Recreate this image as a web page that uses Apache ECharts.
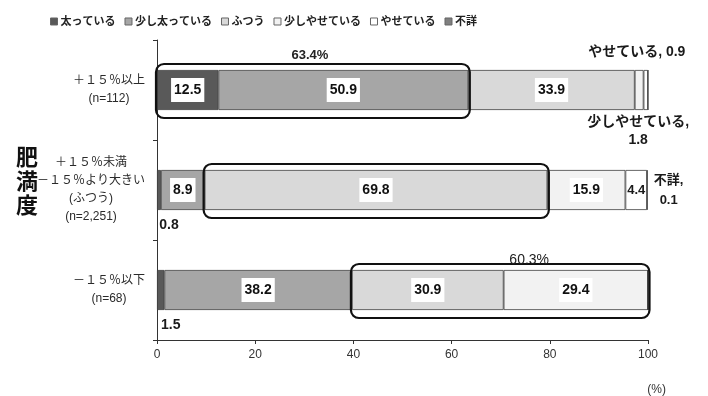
<!DOCTYPE html>
<html>
<head>
<meta charset="utf-8">
<title>肥満度別 体型の自己認識</title>
<script src="https://cdn.jsdelivr.net/npm/echarts@6/dist/echarts.min.js"></script>
<style>
  html, body { margin: 0; padding: 0; background: #fff; }
  #chart { width: 708px; height: 396px; }
</style>
</head>
<body>
<div id="chart"></div>
<script>
// Categories (obesity degree groups), top to bottom
const categories = [
  '＋１５％以上\n(n=112)',
  '＋１５％未満\n－１５％より大きい\n(ふつう)\n(n=2,251)',
  '－１５％以下\n(n=68)'
];

// Self-perceived body type, % per group
const seriesNames = ['太っている', '少し太っている', 'ふつう', '少しやせている', 'やせている', '不詳'];
const fat         = [12.5, 0.8, 1.5];
const slightlyFat = [50.9, 8.9, 38.2];
const normal      = [33.9, 69.8, 30.9];
const slightlyThin= [1.8, 15.9, 29.4];
const thin        = [0.9, 4.4, 0];
const unknown     = [0, 0.1, 0];

const xTicks = [0, 20, 40, 60, 80, 100];

const seriesValues = [fat, slightlyFat, normal, slightlyThin, thin, unknown];
const colors = ['#595959', '#a6a6a6', '#d9d9d9', '#f2f2f2', '#ffffff', '#7f7f7f'];

const FONT = '"Liberation Sans", "Noto Sans CJK JP", sans-serif';

// Labels that sit outside their (narrow) segment: keyed "series-category"
const outsideLabels = {
  '0-1': { position: 'bottom', distance: 8, offset: [10, 0], size: 14, fmt: v => v.toFixed(1) },
  '0-2': { position: 'bottom', distance: 8, offset: [10, 0], size: 14, fmt: v => v.toFixed(1) },
  '3-0': { position: 'bottom', distance: 3, offset: [-1, 0], lineHeight: 18, size: 14,
           fmt: v => seriesNames[3] + ',\n' + v.toFixed(1) },
  '4-0': { position: 'top', distance: 11, offset: [-9, 0], size: 14,
           fmt: v => seriesNames[4] + ', ' + v.toFixed(1) },
  '5-1': { position: 'right', distance: 21, align: 'center', lineHeight: 20, size: 13,
           fmt: v => seriesNames[5] + ',\n' + v.toFixed(1) }
};
// Narrow segment whose label fits without a backing box
const plainInside = { '4-1': true };

function buildItem(si, ci, v) {
  const key = si + '-' + ci;
  const item = { value: v };
  if (outsideLabels[key]) {
    const o = outsideLabels[key];
    item.label = {
      show: true, position: o.position, distance: o.distance, offset: o.offset || [0, 0],
      align: o.align, lineHeight: o.lineHeight,
      formatter: () => o.fmt(v),
      color: '#1a1a1a', fontSize: o.size, fontWeight: 'bold', fontFamily: FONT,
      backgroundColor: 'transparent', padding: 0
    };
  } else if (plainInside[key]) {
    item.label = {
      show: true, position: 'inside', color: '#1a1a1a', fontSize: 13, fontWeight: 'bold',
      fontFamily: FONT, backgroundColor: 'transparent', padding: 0,
      formatter: () => v.toFixed(1)
    };
  } else if (v >= 5) {
    item.label = { show: true };
  } else {
    item.label = { show: false };
  }
  return item;
}

const barSeries = seriesNames.map((name, si) => ({
  name: name,
  type: 'bar',
  stack: 'total',
  barWidth: 40,
  itemStyle: { color: colors[si], borderColor: '#404040', borderWidth: 0.8 },
  label: {
    show: false,
    position: 'inside',
    formatter: p => p.value.toFixed(1),
    color: '#111',
    fontSize: 14,
    fontWeight: 'bold',
    fontFamily: FONT,
    backgroundColor: '#ffffff',
    padding: [5, 3]
  },
  data: seriesValues[si].map((v, ci) => buildItem(si, ci, v))
}));

// Highlight frames around combined groups, built from the series values
const sum = (arrs, ci) => arrs.reduce((a, arr) => a + arr[ci], 0);
const frames = [
  { start: 0, end: sum([fat, slightlyFat], 0), cat: 0,
    text: sum([fat, slightlyFat], 0).toFixed(1) + '%' },
  { start: sum([fat, slightlyFat], 1), end: sum([fat, slightlyFat, normal], 1), cat: 1, text: '' },
  { start: sum([fat, slightlyFat], 2), end: sum([fat, slightlyFat, normal, slightlyThin], 2), cat: 2,
    text: sum([normal, slightlyThin], 2).toFixed(1) + '%' }
];
const frameTextStyle = [
  { dx: -3, dy: -9, font: 'bold 13px ' + FONT },
  { dx: 0, dy: -9, font: 'bold 13px ' + FONT },
  { dx: 29, dy: -4, font: '14px ' + FONT }
];

const frameSeries = {
  type: 'custom',
  z: 10,
  silent: true,
  encode: { x: [0, 1], y: 2 },
  data: frames.map(f => [f.start, f.end, f.cat, f.text]),
  renderItem: function (params, api) {
    const s = api.coord([api.value(0), api.value(2)]);
    const e = api.coord([api.value(1), api.value(2)]);
    const h = 54;
    const x0 = s[0] - 1, x1 = e[0] + 1.5;
    const top = s[1] - h / 2 + 1;
    const st = frameTextStyle[params.dataIndex];
    const label = frames[params.dataIndex].text;
    const children = [{
      type: 'rect',
      shape: { x: x0, y: top, width: x1 - x0, height: h, r: 8 },
      style: { fill: 'none', stroke: '#111', lineWidth: 2.2 }
    }];
    if (label) {
      children.push({
        type: 'text',
        style: {
          x: (x0 + x1) / 2 + st.dx, y: top + st.dy,
          text: label, font: st.font, fill: '#222',
          align: 'center', verticalAlign: 'middle'
        }
      });
    }
    return { type: 'group', children: children };
  }
};

const chart = echarts.init(document.getElementById('chart'), null, { renderer: 'canvas' });
chart.setOption({
  animation: false,
  backgroundColor: '#ffffff',
  title: {
    text: '肥\n満\n度',
    left: 11,
    top: 142,
    textStyle: { fontSize: 22, fontWeight: 'bold', color: '#111', lineHeight: 24, fontFamily: FONT }
  },
  legend: {
    data: seriesNames,
    left: 45,
    top: 11,
    icon: 'rect',
    itemWidth: 7,
    itemHeight: 7,
    itemGap: 9,
    itemStyle: { borderColor: '#666', borderWidth: 1 },
    textStyle: { fontSize: 11, fontWeight: 'bold', color: '#222', fontFamily: FONT, padding: [0, 0, 0, -2] }
  },
  grid: { left: 157, right: 60, top: 40, bottom: 56 },
  xAxis: {
    type: 'value',
    min: xTicks[0],
    max: xTicks[xTicks.length - 1],
    interval: xTicks[1] - xTicks[0],
    axisLine: { show: true, lineStyle: { color: '#333', width: 1 } },
    axisTick: { show: true, length: 4, lineStyle: { color: '#333' } },
    splitLine: { show: false },
    axisLabel: { fontSize: 12, color: '#333', margin: 9, fontFamily: FONT }
  },
  yAxis: {
    type: 'category',
    inverse: true,
    data: categories,
    axisLine: { show: true, lineStyle: { color: '#333', width: 1 } },
    axisTick: { show: true, length: 4, lineStyle: { color: '#333' } },
    axisLabel: {
      margin: 12,
      color: '#333',
      fontSize: 12,
      fontFamily: FONT,
      lineHeight: 18,
      formatter: function (value, index) {
        const tag = index === 1 ? 'w' : 'n';
        return value.split('\n').map(l => '{' + tag + '|' + l + '}').join('\n');
      },
      rich: {
        n: { width: 72, align: 'center', fontSize: 12, lineHeight: 18, color: '#2a2a2a', fontFamily: FONT },
        w: { width: 108, align: 'center', fontSize: 12, lineHeight: 18, color: '#2a2a2a', fontFamily: FONT }
      }
    }
  },
  graphic: [{
    type: 'text',
    right: 42,
    bottom: 0,
    style: { text: '(%)', font: '12px ' + FONT, fill: '#333' }
  }],
  series: barSeries.concat([frameSeries])
});
</script>
</body>
</html>
